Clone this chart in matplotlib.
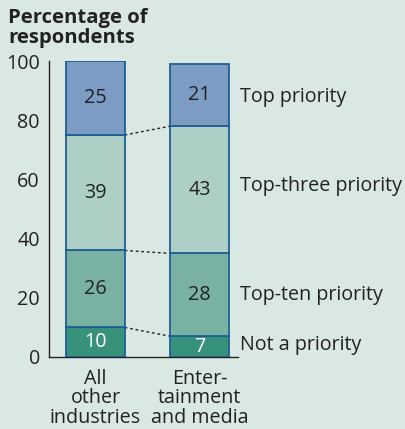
import matplotlib
matplotlib.use("Agg")
import matplotlib.pyplot as plt
import numpy as np

plt.rcParams['font.family'] = ['Open Sans', 'DejaVu Sans']

categories = ["All\nother\nindustries", "Enter-\ntainment\nand media"]
segments = ["Not a priority", "Top-ten priority", "Top-three priority", "Top priority"]
not_priority = [10, 7]
top_ten = [26, 28]
top_three = [39, 43]
top_priority = [25, 21]
yticks = [0, 20, 40, 60, 80, 100]

series = [not_priority, top_ten, top_three, top_priority]
colors = ["#37917b", "#79b2a3", "#aecfc6", "#7c9cc4"]
label_colors = ["white", "#222222", "#222222", "#222222"]
edge = "#1f5f96"
bg = "#dae8e3"
FS = 14.2

W, H = 406, 429
fig = plt.figure(figsize=(W / 100, H / 100), dpi=100, facecolor=bg)
ax_l, ax_r, ax_b, ax_t = 49, 238, 357, 61
ax = fig.add_axes([ax_l / W, 1 - ax_b / H, (ax_r - ax_l) / W, (ax_b - ax_t) / H])
ax.set_facecolor(bg)

x = np.arange(len(categories))
width = 0.56
bottom = np.zeros(len(categories))
for vals, c, lc in zip(series, colors, label_colors):
    vals = np.array(vals, dtype=float)
    ax.bar(x, vals, width, bottom=bottom, color=c, edgecolor=edge, linewidth=1.3, zorder=3)
    for xi, b, v in zip(x, bottom, vals):
        ax.text(xi, b + v / 2, f"{int(v)}", ha="center", va="center",
                fontsize=FS, color=lc, zorder=4)
    bottom = bottom + vals

# dotted connectors between cumulative boundaries
cum = np.cumsum(np.array(series[:-1], dtype=float), axis=0)
for level in cum:
    ax.plot([x[0] + width / 2, x[1] - width / 2], [level[0], level[1]],
            linestyle=(0, (2, 2)), color="#222222", linewidth=1.0, zorder=2)

# segment labels to the right of the second bar
label_pos = {"Not a priority": 4, "Top-ten priority": 21, "Top-three priority": 57.8, "Top priority": 87.8}
for name in segments:
    ax.text(1.39, label_pos[name], name, ha="left", va="center", fontsize=FS,
            color="#222222", clip_on=False)

ax.set_xlim(-0.447, 1.37)
ax.set_ylim(0, 100)
ax.set_yticks(yticks)
ax.set_yticklabels([str(t) for t in yticks], fontsize=FS, color="#222222")
ax.tick_params(axis="y", length=0, pad=6.5)
ax.set_xticks(x)
ax.set_xticklabels(categories, fontsize=FS, color="#222222", linespacing=0.96)
ax.tick_params(axis="x", length=0, pad=8.5)
for s in ["top", "right"]:
    ax.spines[s].set_visible(False)
ax.spines["left"].set_color("#222222")
ax.spines["bottom"].set_color("#222222")
ax.spines["left"].set_linewidth(1.0)
ax.spines["bottom"].set_linewidth(1.0)

fig.text(8 / W, 1 - 8 / H, "Percentage of\nrespondents", ha="left", va="top",
         fontsize=14.6, fontweight="bold", color="#222222", linespacing=1.0)

fig.savefig("out.png", dpi=100, facecolor=bg)
